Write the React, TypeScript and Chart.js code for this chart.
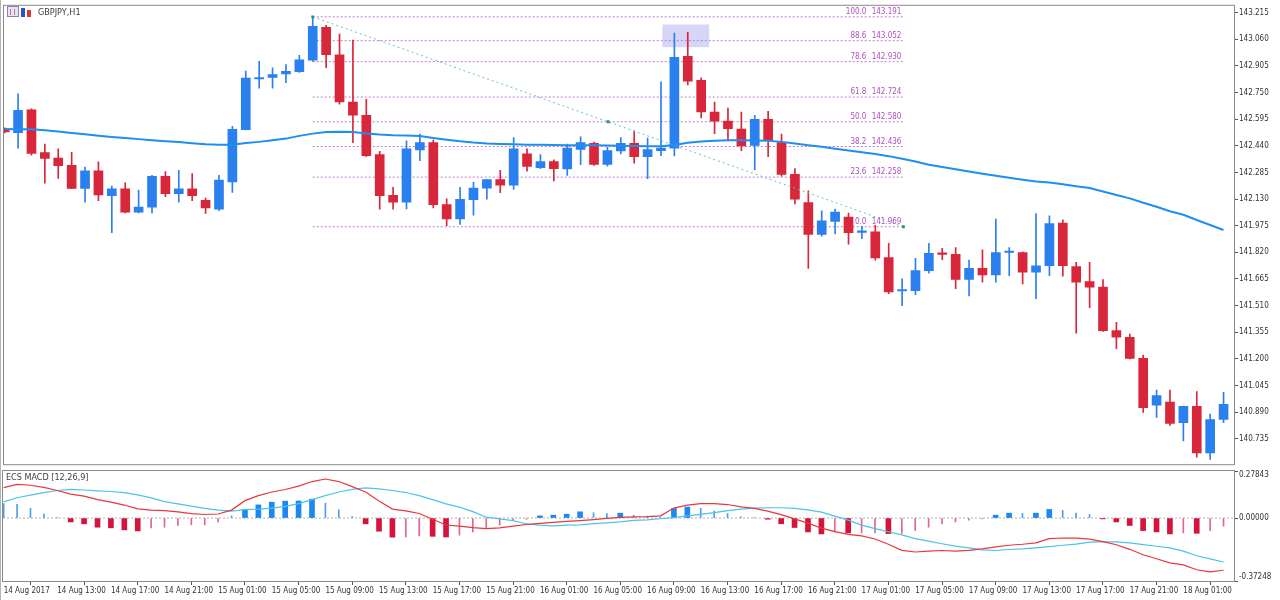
import React, { useEffect, useRef } from 'react';
import { Chart, registerables } from 'chart.js';

Chart.register(...registerables);

const FONT = '"Liberation Sans Narrow", "DejaVu Sans Condensed", "Liberation Sans", sans-serif';

// GBPJPY H1, one value per bar: 14 Aug 09:00 .. 18 Aug 04:00 (92 bars)
const opens = [
  142.538, 142.517, 142.649, 142.400, 142.368, 142.326, 142.192, 142.295, 142.150, 142.190,
  142.054, 142.083, 142.263, 142.161, 142.190, 142.123, 142.072, 142.230, 142.534, 142.829,
  142.838, 142.858, 142.871, 142.938, 143.129, 142.970, 142.695, 142.618, 142.389, 142.152,
  142.112, 142.416, 142.459, 142.098, 142.014, 142.127, 142.194, 142.244, 142.211, 142.393,
  142.313, 142.349, 142.305, 142.419, 142.454, 142.332, 142.410, 142.454, 142.377, 142.412,
  142.427, 142.961, 142.821, 142.637, 142.584, 142.538, 142.442, 142.594, 142.459, 142.274,
  142.109, 141.924, 142.000, 142.026, 141.936, 141.940, 141.790, 141.595, 141.597, 141.714,
  141.815, 141.809, 141.662, 141.727, 141.689, 141.819, 141.819, 141.704, 141.742, 141.991,
  141.737, 141.650, 141.618, 141.364, 141.326, 141.203, 140.930, 140.949, 140.828, 140.924,
  140.652, 140.847,
];
const highs = [
  142.545, 142.743, 142.655, 142.450, 142.422, 142.402, 142.316, 142.347, 142.205, 142.224,
  142.182, 142.268, 142.290, 142.297, 142.278, 142.136, 142.268, 142.553, 142.875, 142.932,
  142.894, 142.913, 142.967, 143.191, 143.142, 143.091, 143.056, 142.710, 142.408, 142.198,
  142.469, 142.508, 142.473, 142.131, 142.198, 142.228, 142.245, 142.297, 142.488, 142.422,
  142.389, 142.358, 142.450, 142.492, 142.462, 142.431, 142.488, 142.527, 142.485, 142.813,
  143.096, 143.100, 142.836, 142.695, 142.660, 142.637, 142.618, 142.641, 142.508, 142.307,
  142.178, 142.062, 142.072, 142.049, 141.972, 141.978, 141.873, 141.666, 141.785, 141.873,
  141.844, 141.848, 141.775, 141.834, 142.014, 141.848, 141.823, 142.045, 142.033, 142.010,
  141.762, 141.762, 141.662, 141.412, 141.345, 141.222, 141.019, 141.019, 140.925, 141.010,
  140.878, 141.005,
];
const lows = [
  142.515, 142.427, 142.385, 142.222, 142.251, 142.190, 142.112, 142.121, 141.934, 142.049,
  142.049, 142.049, 142.144, 142.112, 142.121, 142.046, 142.062, 142.169, 142.532, 142.775,
  142.775, 142.808, 142.867, 142.932, 142.895, 142.683, 142.459, 142.377, 142.072, 142.072,
  142.073, 142.354, 142.079, 141.976, 141.983, 142.037, 142.129, 142.167, 142.186, 142.293,
  142.307, 142.236, 142.268, 142.330, 142.326, 142.322, 142.393, 142.339, 142.249, 142.383,
  142.381, 142.795, 142.603, 142.511, 142.469, 142.412, 142.301, 142.377, 142.264, 142.102,
  141.727, 141.914, 141.928, 141.867, 141.900, 141.775, 141.580, 141.509, 141.574, 141.699,
  141.777, 141.609, 141.567, 141.647, 141.647, 141.685, 141.637, 141.551, 141.685, 141.682,
  141.350, 141.498, 141.360, 141.260, 141.200, 140.888, 140.859, 140.813, 140.723, 140.628,
  140.615, 140.828,
];
const closes = [
  142.521, 142.647, 142.396, 142.366, 142.324, 142.192, 142.295, 142.155, 142.190, 142.054,
  142.083, 142.263, 142.161, 142.190, 142.150, 142.079, 142.241, 142.536, 142.835, 142.836,
  142.854, 142.873, 142.940, 143.135, 142.970, 142.695, 142.618, 142.383, 142.150, 142.112,
  142.422, 142.459, 142.098, 142.014, 142.129, 142.194, 142.244, 142.211, 142.422, 142.320,
  142.349, 142.307, 142.427, 142.459, 142.332, 142.412, 142.454, 142.377, 142.418, 142.427,
  142.955, 142.817, 142.637, 142.584, 142.540, 142.439, 142.594, 142.473, 142.274, 142.129,
  141.924, 142.003, 142.054, 141.934, 141.940, 141.788, 141.590, 141.603, 141.714, 141.815,
  141.808, 141.662, 141.727, 141.689, 141.819, 141.823, 141.704, 141.742, 141.987, 141.742,
  141.647, 141.618, 141.364, 141.326, 141.203, 140.916, 140.987, 140.824, 140.924, 140.652,
  140.847, 140.936,
];
const movingAvg = [
  142.538, 142.537, 142.536, 142.530, 142.523, 142.515, 142.507, 142.499, 142.492, 142.485,
  142.479, 142.473, 142.467, 142.462, 142.455, 142.449, 142.446, 142.446, 142.456, 142.463,
  142.473, 142.482, 142.498, 142.511, 142.521, 142.522, 142.520, 142.512, 142.506, 142.502,
  142.500, 142.497, 142.486, 142.476, 142.466, 142.459, 142.454, 142.451, 142.449, 142.447,
  142.446, 142.445, 142.444, 142.444, 142.444, 142.442, 142.440, 142.439, 142.438, 142.437,
  142.445, 142.458, 142.465, 142.469, 142.472, 142.472, 142.471, 142.469, 142.463, 142.454,
  142.444, 142.434, 142.423, 142.413, 142.403, 142.392, 142.380, 142.365, 142.349, 142.330,
  142.317, 142.304, 142.291, 142.278, 142.266, 142.254, 142.243, 142.233, 142.227, 142.216,
  142.205, 142.194, 142.174, 142.154, 142.134, 142.109, 142.085, 142.059, 142.039, 142.008,
  141.979, 141.950,
];

const priceTicks = [
  143.215, 143.06, 142.905, 142.75, 142.595, 142.44, 142.285, 142.13, 141.975,
  141.82, 141.665, 141.51, 141.355, 141.2, 141.045, 140.89, 140.735,
];

// fibonacci retracement drawn from bar 23 to bar 67.1
const fibLevels = ['100.0', '88.6', '78.6', '61.8', '50.0', '38.2', '23.6', '0.0'];
const fibPrices = [143.191, 143.052, 142.93, 142.724, 142.58, 142.436, 142.258, 141.969];
const fibBars = [23, 67.1];
const trendBars = [23, 45.05, 67.1];
const trendPrices = [143.191, 142.58, 141.969];
const boxBars = [49.1, 52.6];
const boxPrices = [143.014, 143.146];

// ECS MACD [12,26,9]
const macdMain = [
  0.180, 0.199, 0.194, 0.182, 0.163, 0.142, 0.130, 0.109, 0.094, 0.077,
  0.054, 0.047, 0.044, 0.036, 0.026, 0.021, 0.024, 0.047, 0.103, 0.133,
  0.154, 0.169, 0.189, 0.216, 0.231, 0.216, 0.186, 0.154, 0.101, 0.053,
  0.042, 0.027, -0.007, -0.041, -0.048, -0.057, -0.062, -0.058, -0.048, -0.038,
  -0.032, -0.026, -0.020, -0.015, -0.009, -0.002, 0.004, 0.007, 0.009, 0.013,
  0.059, 0.077, 0.085, 0.085, 0.080, 0.066, 0.057, 0.041, 0.020, -0.005,
  -0.030, -0.060, -0.080, -0.097, -0.106, -0.124, -0.155, -0.191, -0.201, -0.196,
  -0.192, -0.196, -0.191, -0.182, -0.170, -0.161, -0.155, -0.147, -0.122, -0.118,
  -0.119, -0.125, -0.140, -0.158, -0.185, -0.217, -0.241, -0.265, -0.277, -0.306,
  -0.319, -0.309,
];
const macdSignal = [
  0.096, 0.120, 0.136, 0.150, 0.163, 0.170, 0.166, 0.161, 0.157, 0.151,
  0.137, 0.119, 0.097, 0.084, 0.071, 0.057, 0.047, 0.041, 0.050, 0.053,
  0.059, 0.069, 0.085, 0.109, 0.133, 0.154, 0.170, 0.179, 0.173, 0.163,
  0.151, 0.133, 0.109, 0.084, 0.065, 0.038, 0.005, -0.005, -0.015, -0.035,
  -0.042, -0.046, -0.042, -0.040, -0.033, -0.028, -0.023, -0.014, -0.011, -0.004,
  0.002, 0.013, 0.022, 0.032, 0.044, 0.053, 0.059, 0.061, 0.061, 0.057,
  0.048, 0.035, 0.011, -0.012, -0.042, -0.063, -0.081, -0.100, -0.122, -0.137,
  -0.152, -0.166, -0.177, -0.188, -0.192, -0.186, -0.182, -0.176, -0.169, -0.161,
  -0.154, -0.143, -0.141, -0.141, -0.147, -0.157, -0.167, -0.177, -0.196, -0.223,
  -0.242, -0.260,
];
const macdHist = [
  0.086, 0.081, 0.057, 0.023, 0.002, -0.023, -0.034, -0.054, -0.058, -0.070,
  -0.076, -0.058, -0.054, -0.044, -0.040, -0.040, -0.023, 0.013, 0.049, 0.078,
  0.094, 0.100, 0.101, 0.112, 0.088, 0.049, 0.009, -0.034, -0.078, -0.113,
  -0.112, -0.106, -0.108, -0.112, -0.101, -0.082, -0.062, -0.042, -0.012, -0.007,
  0.013, 0.017, 0.023, 0.037, 0.031, 0.027, 0.029, 0.017, 0.011, 0.007,
  0.057, 0.065, 0.057, 0.041, 0.027, 0.007, 0.002, -0.007, -0.034, -0.056,
  -0.082, -0.094, -0.082, -0.088, -0.088, -0.088, -0.092, -0.091, -0.074, -0.054,
  -0.034, -0.023, -0.012, -0.005, 0.017, 0.029, 0.027, 0.029, 0.051, 0.045,
  0.029, 0.021, -0.005, -0.023, -0.044, -0.074, -0.082, -0.094, -0.088, -0.090,
  -0.074, -0.048,
];
// 1 = wide histogram bar, 0 = thin one
const histThick = [
  0, 0, 0, 0, 0, 1, 1, 1, 1, 1,
  1, 0, 0, 0, 0, 0, 0, 0, 1, 1,
  1, 1, 1, 1, 0, 0, 0, 1, 1, 1,
  0, 0, 1, 1, 0, 0, 0, 0, 0, 0,
  1, 1, 1, 1, 0, 0, 1, 0, 0, 0,
  1, 1, 0, 0, 0, 0, 0, 1, 1, 1,
  1, 1, 0, 1, 0, 0, 1, 0, 0, 0,
  0, 0, 0, 0, 1, 1, 0, 1, 1, 0,
  0, 0, 1, 1, 1, 1, 1, 1, 0, 1,
  0, 0,
];
const macdTicks = [0.27843, 0, -0.37248];

const timeTickBars = [0, 4, 8, 12, 16, 20, 24, 28, 32, 36, 40, 44, 48, 52, 56, 60, 64, 68, 72, 76, 80, 84, 88];
const timeTickLabels = [
  '14 Aug 2017', '14 Aug 13:00', '14 Aug 17:00', '14 Aug 21:00',
  '15 Aug 01:00', '15 Aug 05:00', '15 Aug 09:00', '15 Aug 13:00', '15 Aug 17:00', '15 Aug 21:00',
  '16 Aug 01:00', '16 Aug 05:00', '16 Aug 09:00', '16 Aug 13:00', '16 Aug 17:00', '16 Aug 21:00',
  '17 Aug 01:00', '17 Aug 05:00', '17 Aug 09:00', '17 Aug 13:00', '17 Aug 17:00', '17 Aug 21:00',
  '18 Aug 01:00',
];

const X_MIN = -0.05;
const X_MAX = 91.78;
const PRICE_MIN = 140.587;
const PRICE_MAX = 143.255;

const BULL = '#2b80f0';
const BEAR = '#d8263a';
const barColors = opens.map((o, i) => (closes[i] >= o ? BULL : BEAR));

const framePlugin = {
  id: 'frame',
  afterDraw(chart: any) {
    const { ctx, chartArea: a } = chart;
    ctx.save();
    ctx.strokeStyle = '#8a8a8a';
    ctx.lineWidth = 1;
    ctx.strokeRect(a.left - 0.5, a.top - 0.5, a.right - a.left + 1, a.bottom - a.top + 1);
    ctx.strokeStyle = '#b4b4b4';
    ctx.beginPath();
    ctx.moveTo(0.5, 0);
    ctx.lineTo(0.5, chart.height);
    ctx.stroke();
    ctx.restore();
  },
};

const boxPlugin = {
  id: 'fibBox',
  beforeDatasetsDraw(chart: any) {
    const { ctx, scales } = chart;
    const x0 = scales.x.getPixelForValue(boxBars[0]);
    const x1 = scales.x.getPixelForValue(boxBars[1]);
    const y0 = scales.y.getPixelForValue(boxPrices[1]);
    const y1 = scales.y.getPixelForValue(boxPrices[0]);
    ctx.save();
    ctx.fillStyle = '#d6d6f6';
    ctx.fillRect(x0, y0, x1 - x0, y1 - y0);
    ctx.restore();
  },
};

const fibLabelPlugin = {
  id: 'fibLabels',
  afterDatasetsDraw(chart: any) {
    const { ctx, scales } = chart;
    const xEnd = scales.x.getPixelForValue(fibBars[1]);
    ctx.save();
    ctx.font = `8px ${FONT}`;
    ctx.fillStyle = '#b050c2';
    ctx.textAlign = 'right';
    ctx.textBaseline = 'bottom';
    fibPrices.forEach((p, k) => {
      const y = scales.y.getPixelForValue(p) - 1;
      ctx.fillText(fibLevels[k], xEnd - 37, y);
      ctx.fillText(p.toFixed(3), xEnd - 2, y);
    });
    ctx.restore();
  },
};

const titlePlugin = {
  id: 'title',
  afterDraw(chart: any) {
    const { ctx } = chart;
    ctx.save();
    // little window icons
    ctx.fillStyle = '#e4e4f2';
    ctx.fillRect(7, 6, 12, 11);
    ctx.strokeStyle = '#8585b5';
    ctx.strokeRect(7.5, 6.5, 11, 10);
    ctx.fillStyle = '#c87878';
    ctx.fillRect(10, 9, 1, 6);
    ctx.fillRect(14, 9, 1, 6);
    ctx.fillStyle = '#2f4fc8';
    ctx.fillRect(21, 8, 4, 9);
    ctx.fillStyle = '#d03a3a';
    ctx.fillRect(27, 10, 4, 7);
    ctx.font = `9px ${FONT}`;
    ctx.fillStyle = '#3c3c3c';
    ctx.textBaseline = 'middle';
    ctx.fillText('GBPJPY,H1', 38, 12.5);
    ctx.restore();
  },
};

const macdLabelPlugin = {
  id: 'macdLabels',
  afterDraw(chart: any) {
    const { ctx, chartArea: a, scales } = chart;
    ctx.save();
    ctx.font = `8px ${FONT}`;
    ctx.fillStyle = '#333333';
    ctx.textAlign = 'left';
    ctx.textBaseline = 'middle';
    macdTicks.forEach((v, k) => {
      let y = scales.y.getPixelForValue(v);
      if (k === 0) y += 3.5;
      if (k === macdTicks.length - 1) y -= 4;
      ctx.fillText(v.toFixed(5), a.right + 5, y);
    });
    ctx.font = `9px ${FONT}`;
    ctx.fillStyle = '#404040';
    ctx.fillText('ECS MACD [12,26,9]', a.left + 3, a.top + 7);
    ctx.restore();
  },
};

const tickFont = { family: FONT, size: 8 };

export default function App() {
  const mainRef = useRef<HTMLCanvasElement>(null);
  const macdRef = useRef<HTMLCanvasElement>(null);

  useEffect(() => {
    if (!mainRef.current || !macdRef.current) return;

    const fibSets = fibPrices.map((p) => ({
      type: 'line',
      data: [
        { x: fibBars[0], y: p },
        { x: fibBars[1], y: p },
      ],
      borderColor: '#c47ad6',
      borderWidth: 1,
      borderDash: [2, 2],
      pointRadius: 0,
      order: 5,
    }));

    const main = new Chart(mainRef.current, {
      type: 'bar',
      data: {
        datasets: [
          {
            type: 'line',
            data: movingAvg.map((v, i) => ({ x: i, y: v })),
            borderColor: '#1e8ef0',
            borderWidth: 2,
            pointRadius: 0,
            order: 0,
          },
          {
            type: 'line',
            data: trendBars.map((b, k) => ({ x: b, y: trendPrices[k] })),
            borderColor: '#62c6b6',
            borderWidth: 1,
            borderDash: [2, 3],
            pointStyle: 'rect',
            pointRadius: 2,
            pointBackgroundColor: '#2e8b7d',
            pointBorderColor: '#2e8b7d',
            pointBorderWidth: 0,
            order: 1,
          },
          {
            type: 'bar',
            data: opens.map((o, i) => ({ x: i, y: [o, closes[i]] })),
            backgroundColor: barColors,
            barThickness: 9,
            maxBarThickness: 9,
            minBarLength: 1.5,
            grouped: false,
            order: 2,
          },
          {
            type: 'bar',
            data: lows.map((l, i) => ({ x: i, y: [l, highs[i]] })),
            backgroundColor: barColors,
            barThickness: 1,
            maxBarThickness: 1,
            grouped: false,
            order: 3,
          },
          ...fibSets,
        ],
      } as any,
      options: {
        animation: false,
        responsive: false,
        maintainAspectRatio: false,
        events: [],
        layout: { padding: { left: 3, top: 3, right: 0, bottom: 2 } },
        plugins: { legend: { display: false }, tooltip: { enabled: false } },
        scales: {
          x: { type: 'linear', min: X_MIN, max: X_MAX, offset: false, display: false },
          y: {
            type: 'linear',
            position: 'right',
            min: PRICE_MIN,
            max: PRICE_MAX,
            beginAtZero: false,
            grid: { display: true, drawOnChartArea: false, drawTicks: true, tickLength: 4, color: '#555555' },
            border: { display: true, color: '#8a8a8a' },
            ticks: {
              font: tickFont,
              color: '#333333',
              padding: 1,
              callback: (v: any) => Number(v).toFixed(3),
            },
            afterBuildTicks: (s: any) => {
              s.ticks = priceTicks.map((v) => ({ value: v }));
            },
            afterFit: (s: any) => {
              s.width = 46;
            },
          },
        },
      } as any,
      plugins: [boxPlugin, fibLabelPlugin, framePlugin, titlePlugin],
    });

    const histColor = (thick: boolean) => (ctx: any) => {
      const v = ctx.raw ? ctx.raw.y : 0;
      if (thick) return v >= 0 ? '#1e88f0' : '#d4143c';
      return v >= 0 ? '#4a9ff0' : '#e2668a';
    };

    const macd = new Chart(macdRef.current, {
      type: 'bar',
      data: {
        datasets: [
          {
            type: 'line',
            data: macdMain.map((v, i) => ({ x: i, y: v })),
            borderColor: '#e8383d',
            borderWidth: 1.2,
            pointRadius: 0,
            order: 0,
          },
          {
            type: 'line',
            data: macdSignal.map((v, i) => ({ x: i, y: v })),
            borderColor: '#4cc4e6',
            borderWidth: 1.2,
            pointRadius: 0,
            order: 1,
          },
          {
            type: 'bar',
            data: macdHist.map((v, i) => ({ x: i, y: v })).filter((_, i) => histThick[i] === 1),
            backgroundColor: histColor(true),
            barThickness: 5,
            maxBarThickness: 5,
            grouped: false,
            order: 2,
          },
          {
            type: 'bar',
            data: macdHist.map((v, i) => ({ x: i, y: v })).filter((_, i) => histThick[i] === 0),
            backgroundColor: histColor(false),
            barThickness: 1,
            maxBarThickness: 1,
            grouped: false,
            order: 3,
          },
          {
            type: 'line',
            data: [
              { x: X_MIN, y: 0 },
              { x: X_MAX, y: 0 },
            ],
            borderColor: '#b4b4b4',
            borderWidth: 1,
            borderDash: [2, 2],
            pointRadius: 0,
            order: 4,
          },
        ],
      } as any,
      options: {
        animation: false,
        responsive: false,
        maintainAspectRatio: false,
        events: [],
        layout: { padding: { left: 3, top: 1, right: 0, bottom: 0 } },
        plugins: { legend: { display: false }, tooltip: { enabled: false } },
        scales: {
          x: {
            type: 'linear',
            min: X_MIN,
            max: X_MAX,
            offset: false,
            grid: { display: true, drawOnChartArea: false, drawTicks: true, tickLength: 4, color: '#555555' },
            border: { display: true, color: '#8a8a8a' },
            ticks: {
              autoSkip: false,
              maxRotation: 0,
              align: 'start',
              padding: 1,
              font: tickFont,
              color: '#333333',
              callback: (_v: any, i: number) => timeTickLabels[i],
            },
            afterBuildTicks: (s: any) => {
              s.ticks = timeTickBars.map((v) => ({ value: v }));
            },
            afterFit: (s: any) => {
              s.height = 19;
            },
          },
          y: {
            type: 'linear',
            position: 'right',
            min: macdTicks[2],
            max: macdTicks[0],
            beginAtZero: false,
            grid: { display: true, drawOnChartArea: false, drawTicks: true, tickLength: 4, color: '#555555' },
            border: { display: true, color: '#8a8a8a' },
            ticks: { display: false },
            afterBuildTicks: (s: any) => {
              s.ticks = macdTicks.map((v) => ({ value: v }));
            },
            afterFit: (s: any) => {
              s.width = 46;
            },
          },
        },
      } as any,
      plugins: [framePlugin, macdLabelPlugin],
    });

    return () => {
      main.destroy();
      macd.destroy();
    };
  }, []);

  return (
    <div style={{ position: 'absolute', left: 0, top: 0, width: 1280, height: 600, background: '#ffffff', overflow: 'hidden' }}>
      <canvas
        ref={mainRef}
        width={1280}
        height={470}
        style={{ position: 'absolute', left: 0, top: 0, width: 1280, height: 470 }}
      />
      <canvas
        ref={macdRef}
        width={1280}
        height={130}
        style={{ position: 'absolute', left: 0, top: 470, width: 1280, height: 130 }}
      />
    </div>
  );
}
